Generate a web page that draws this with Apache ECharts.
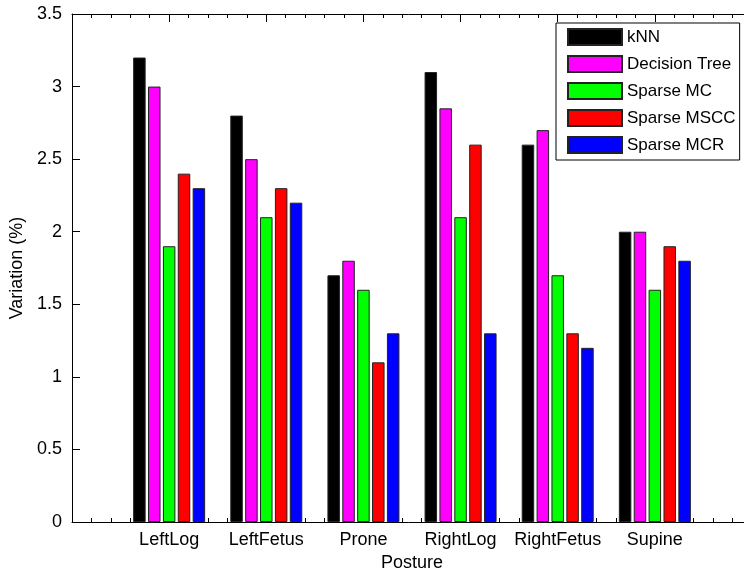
<!DOCTYPE html>
<html>
<head>
<meta charset="utf-8">
<script src="https://cdn.jsdelivr.net/npm/echarts@6/dist/echarts.min.js"></script>
<style>html,body{margin:0;padding:0;background:#fff;}#c{width:744px;height:573px;}</style>
</head>
<body>
<div id="c"></div>
<script>
const categories = ['LeftLog', 'LeftFetus', 'Prone', 'RightLog', 'RightFetus', 'Supine'];
const seriesNames = ['kNN', 'Decision Tree', 'Sparse MC', 'Sparse MSCC', 'Sparse MCR'];
const knn = [3.2, 2.8, 1.7, 3.1, 2.6, 2.0];
const decisionTree = [3.0, 2.5, 1.8, 2.85, 2.7, 2.0];
const sparseMC = [1.9, 2.1, 1.6, 2.1, 1.7, 1.6];
const sparseMSCC = [2.4, 2.3, 1.1, 2.6, 1.3, 1.9];
const sparseMCR = [2.3, 2.2, 1.3, 1.3, 1.2, 1.8];
const colors = ['#000000', '#ff00ff', '#00ff00', '#ff0000', '#0000ff'];
const yTicks = [0, 0.5, 1, 1.5, 2, 2.5, 3, 3.5];

const allValues = [knn, decisionTree, sparseMC, sparseMSCC, sparseMCR];
const FONT = '"Liberation Sans", Arial, sans-serif';

const chart = echarts.init(document.getElementById('c'), null, {renderer: 'canvas'});

const series = allValues.map((vals, si) => ({
  name: seriesNames[si],
  type: 'bar',
  xAxisIndex: 0,
  barWidth: 12.5,
  barGap: '19%',
  itemStyle: {color: colors[si], borderColor: '#222', borderWidth: 1},
  emphasis: {disabled: true},
  data: vals.map((v, i) => [i + 1, v])
}));

const xCommon = {
  type: 'value',
  min: 0,
  max: categories.length + 1,
  interval: 1,
  splitLine: {show: false},
  axisLine: {show: true, onZero: false, lineStyle: {color: '#000', width: 1}},
  axisTick: {show: true, inside: true, length: 8, lineStyle: {color: '#000'}},
  minorTick: {show: true, splitNumber: 5, length: 4, lineStyle: {color: '#000'}},
  minorSplitLine: {show: false}
};

chart.setOption({
  animation: false,
  backgroundColor: '#fff',
  textStyle: {fontFamily: FONT},
  grid: {left: 72, top: 14, width: 680, height: 508, containLabel: false, outerBoundsMode: 'none'},
  legend: {
    orient: 'vertical',
    left: 556,
    top: 23,
    padding: [5, 4, 6, 11],
    itemWidth: 54,
    itemHeight: 16,
    itemGap: 9,
    icon: 'rect',
    borderColor: '#000',
    borderWidth: 1,
    backgroundColor: '#fff',
    selectedMode: false,
    textStyle: {fontSize: 17, color: '#000', fontFamily: FONT},
    data: seriesNames
  },
  xAxis: [
    Object.assign({}, xCommon, {
      position: 'bottom',
      name: 'Posture',
      nameLocation: 'middle',
      nameGap: 32,
      nameTextStyle: {fontSize: 18, color: '#000', fontFamily: FONT},
      axisLabel: {
        show: true, fontSize: 18, color: '#000', margin: 9, fontFamily: FONT,
        formatter: v => (v >= 1 && v <= categories.length) ? categories[Math.round(v) - 1] : ''
      }
    }),
    Object.assign({}, xCommon, {
      position: 'top',
      axisLabel: {show: false}
    })
  ],
  yAxis: {
    type: 'value',
    min: yTicks[0],
    max: yTicks[yTicks.length - 1],
    interval: 0.5,
    name: 'Variation (%)',
    nameLocation: 'middle',
    nameGap: 43,
    nameTextStyle: {fontSize: 18, color: '#000', fontFamily: FONT},
    splitLine: {show: false},
    axisLine: {show: true, lineStyle: {color: '#000', width: 1}},
    axisTick: {show: true, inside: true, length: 8, lineStyle: {color: '#000'}},
    axisLabel: {fontSize: 18, color: '#000', margin: 10, fontFamily: FONT}
  },
  series: series
});
</script>
</body>
</html>
